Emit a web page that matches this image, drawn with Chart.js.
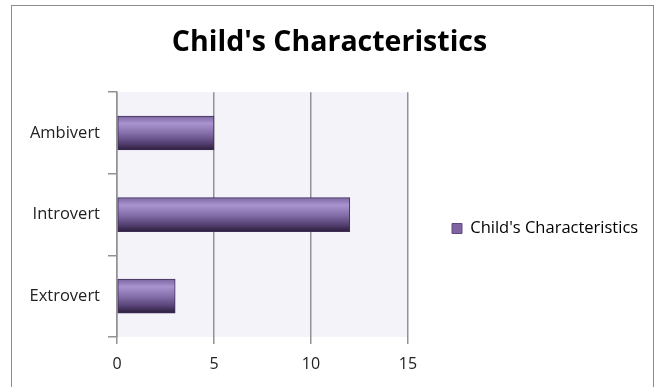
<!DOCTYPE html>
<html>
<head>
<meta charset="utf-8">
<title>Child's Characteristics</title>
<script src="https://cdn.jsdelivr.net/npm/chart.js@4/dist/chart.umd.min.js"></script>
<style>
  html, body { margin: 0; padding: 0; background: #fff; overflow: hidden; }
  #wrap { position: relative; width: 659px; height: 387px; }
  #frame {
    position: absolute; left: 11px; top: 5px; width: 643px; height: 400px;
    border: 1.5px solid #8c8c8c; box-sizing: border-box; pointer-events: none;
  }
</style>
</head>
<body>
<div id="wrap">
  <canvas id="chart" width="659" height="387"></canvas>
  <div id="frame"></div>
</div>
<script>
// --- data ---
const categories = ['Ambivert', 'Introvert', 'Extrovert'];
const seriesName = "Child's Characteristics";
const seriesValues = [5, 12, 3];
const xTicks = [0, 5, 10, 15];

const FONT = "'Open Sans', 'Noto Sans', sans-serif";
const BAR_H = 34;
const LEGEND_W = 251;   // space kept on the right for the legend

// vertical gradient across each bar, Excel 2007 style
const barFill = (ctx) => {
    const chart = ctx.chart;
    const yScale = chart.scales.y;
    if (!yScale || ctx.dataIndex === undefined) return '#8064a2';
    const yc = yScale.getPixelForValue(ctx.dataIndex);
    const top = yc - BAR_H / 2;
    const g = chart.ctx.createLinearGradient(0, top, 0, top + BAR_H);
    g.addColorStop(0, '#7e66a3');
    g.addColorStop(0.22, '#a994cf');
    g.addColorStop(0.5, '#8670ac');
    g.addColorStop(0.8, '#554073');
    g.addColorStop(1, '#2a1d3a');
    return g;
};

const plotBackground = {
    id: 'plotBackground',
    beforeDraw(chart) {
        const { ctx, chartArea: a } = chart;
        ctx.save();
        ctx.fillStyle = '#f5f3fa';
        ctx.fillRect(a.left, a.top, a.right - a.left, a.bottom - a.top);
        ctx.restore();
    }
};

// fixed legend width, and nudge it down a little like Excel does
const legendBox = {
    id: 'legendBox',
    beforeUpdate(chart) {
        const lg = chart.legend;
        if (lg && !lg._fixedFit) {
            const fit = lg.fit;
            lg.fit = function () { fit.call(this); this.width = LEGEND_W; };
            lg._fixedFit = true;
        }
    },
    afterLayout(chart) {
        const lg = chart.legend;
        if (!lg) return;
        lg.top += 35;
        lg.bottom += 35;
    }
};

new Chart(document.getElementById('chart'), {
    type: 'bar',
    data: {
        labels: categories,
        datasets: [{
            label: seriesName,
            data: seriesValues,
            backgroundColor: barFill,
            borderColor: '#3f2f57',
            borderWidth: 1,
            borderSkipped: false,
            barThickness: BAR_H
        }]
    },
    options: {
        indexAxis: 'y',
        responsive: false,
        animation: false,
        devicePixelRatio: 1,
        layout: { padding: 0 },
        scales: {
            x: {
                min: 0, max: 15,
                afterBuildTicks: (axis) => { axis.ticks = xTicks.map(v => ({ value: v })); },
                afterFit: (axis) => { axis.height = 50; },
                grid: { color: '#929292', lineWidth: 1.5, tickLength: 7, drawTicks: true },
                border: { display: false },
                ticks: { color: '#222', font: { family: FONT, size: 16 }, padding: 11 }
            },
            y: {
                afterFit: (axis) => { axis.width = 117; },
                grid: { drawOnChartArea: false, color: '#929292', lineWidth: 1.5, tickLength: 9 },
                border: { color: '#929292', width: 1.5 },
                ticks: { color: '#222', font: { family: FONT, size: 16.5 }, padding: 8 }
            }
        },
        plugins: {
            title: {
                display: true,
                text: seriesName,
                color: '#000',
                font: { family: FONT, size: 28.5, weight: 'bold' },
                padding: { top: 26, bottom: 32 }
            },
            legend: {
                position: 'right',
                labels: {
                    color: '#222',
                    font: { family: FONT, size: 16.5 },
                    boxWidth: 10, boxHeight: 10,
                    padding: 44,
                    generateLabels: () => [{
                        text: seriesName, fillStyle: '#8064a2', strokeStyle: '#5f4a80',
                        lineWidth: 1, datasetIndex: 0
                    }]
                }
            },
            tooltip: { enabled: false }
        }
    },
    plugins: [plotBackground, legendBox]
});
</script>
</body>
</html>
